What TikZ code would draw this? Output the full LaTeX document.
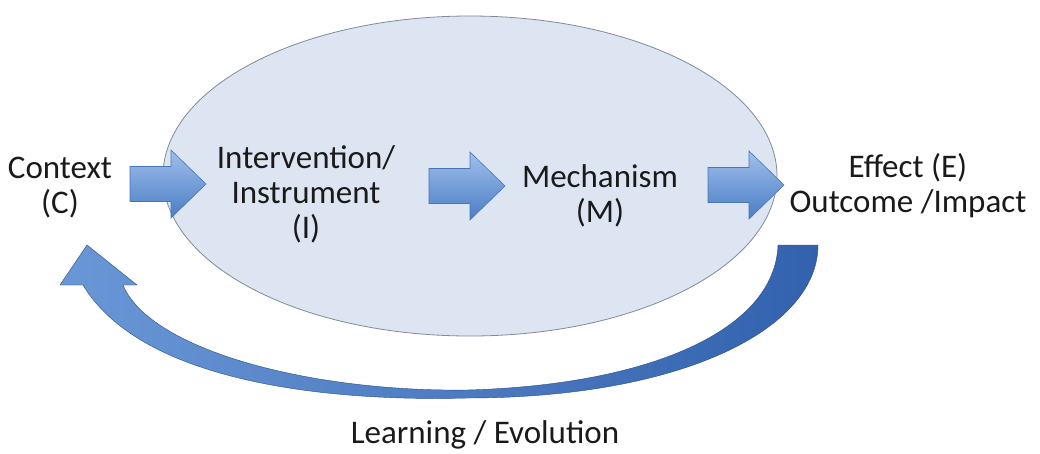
\documentclass[tikz,border=0pt]{standalone}
\usepackage{fontspec}
\setmainfont{Carlito}
\usetikzlibrary{shapes.geometric}
\definecolor{ovalfill}{HTML}{DCE5F1}
\definecolor{ovaldraw}{HTML}{7F8C99}
\definecolor{arrtop}{HTML}{A0C0EC}
\definecolor{arrbot}{HTML}{4A7CC4}
\definecolor{arrdraw}{HTML}{4A76B5}
\definecolor{loopL}{HTML}{6A97D6}
\definecolor{loopR}{HTML}{3262AE}
\definecolor{txt}{HTML}{1A1A1A}
\tikzset{
  lbl/.style={font=\fontsize{33}{35}\selectfont, text=txt, align=center, inner sep=0pt},
  barrow/.style={top color=arrtop, bottom color=arrbot, draw=arrdraw, line width=0.6pt, line join=miter},
  blockarrow/.pic={\path[barrow] (0,-17.5) -- (41,-17.5) -- (41,-34) -- (76,0) -- (41,34) -- (41,17.5) -- (0,17.5) -- cycle;},
  loopstyle/.style={left color=loopL, right color=loopR, draw=loopR!80!black, line width=0.4pt}
}
\begin{document}
\begin{tikzpicture}[x=1pt,y=-1pt]
\useasboundingbox (0,0) rectangle (1040,453);
\node[ellipse, minimum width=614pt, minimum height=320pt, fill=ovalfill, draw=ovaldraw, line width=0.8pt, inner sep=0pt] (oval) at (470,176) {};
\node[lbl] (ctx) at (60,188) {Context\\(C)};
\node[lbl] (int) at (306,194) {Intervention/\\Instrument\\(I)};
\node[lbl] (mech) at (600,196) {Mechanism\\(M)};
\node[lbl] (eff) at (908,186) {Effect (E)\\Outcome /Impact};
\node[lbl, anchor=base] (learn) at (485,443) {Learning / Evolution};
\pic (a1) at (130,184) {blockarrow};
\pic (a2) at (429,186) {blockarrow};
\pic (a3) at (708,185) {blockarrow};
\path[loopstyle] (778,245) -- (818,245)
  .. controls (818,330) and (680,398) .. (467,398)
  .. controls (320,402) and (140,380) .. (83,285)
  -- (60,285) -- (87,245) -- (137,285) -- (123,285)
  .. controls (150,350) and (310,392) .. (467,390)
  .. controls (650,385) and (775,330) .. (778,245) -- cycle;
\end{tikzpicture}
\end{document}
